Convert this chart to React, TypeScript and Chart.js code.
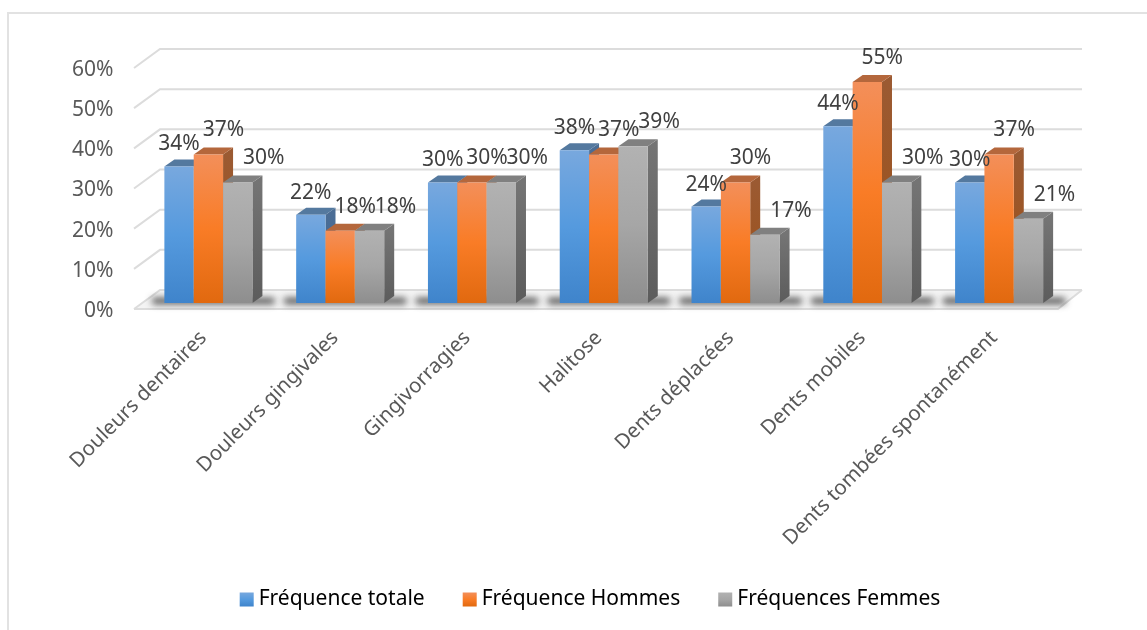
import React, { useEffect, useRef } from "react";
import { Chart, registerables } from "chart.js";

Chart.register(...registerables);

const categories = [
  "Douleurs dentaires",
  "Douleurs gingivales",
  "Gingivorragies",
  "Halitose",
  "Dents déplacées",
  "Dents mobiles",
  "Dents tombées spontanément",
];
const seriesNames = ["Fréquence totale", "Fréquence Hommes", "Fréquences Femmes"];
const frequenceTotale = [34, 22, 30, 38, 24, 44, 30];
const frequenceHommes = [37, 18, 30, 37, 30, 55, 37];
const frequencesFemmes = [30, 18, 30, 39, 17, 30, 21];
const seriesValues = [frequenceTotale, frequenceHommes, frequencesFemmes];

const FONT = '"Noto Sans", sans-serif';
const DEPTH_X = 10;
const DEPTH_Y = 7;

const frontStops = [
  ["#78a8de", "#559ade", "#3f84cb"],
  ["#f38f5a", "#f97c26", "#e1690f"],
  ["#b2b2b2", "#a6a6a6", "#8e8e8e"],
];
const topColors = ["#54799f", "#b4673c", "#808080"];
const sideStops = [
  ["#4b6d95", "#3b6596"],
  ["#9b5a32", "#9d5016"],
  ["#747474", "#5c5c5c"],
];
const labelDx = [0, 15, 26];
const labelDy = [-22, -24, -24];

const gradient = (ctx: CanvasRenderingContext2D, top: number, bottom: number, stops: string[]) => {
  const g = ctx.createLinearGradient(0, top, 0, bottom);
  stops.forEach((c, i) => g.addColorStop(i / (stops.length - 1), c));
  return g;
};

const chart3d = {
  id: "chart3d",
  beforeDatasetsDraw(chart: any) {
    const { ctx, scales } = chart;
    const y = scales.y;
    const x0 = chart.chartArea.left - 8.5;
    const x1 = chart.chartArea.right - 7;
    const FRONT = 6;
    const BACK = -13;
    const BACK_DX = 26;
    const py0 = y.getPixelForValue(0);

    ctx.save();
    ctx.fillStyle = "#f4f4f4";
    ctx.beginPath();
    ctx.moveTo(x0, py0 + FRONT);
    ctx.lineTo(x0 + BACK_DX, py0 + BACK);
    ctx.lineTo(x1 + 24, py0 + BACK);
    ctx.lineTo(x1, py0 + FRONT);
    ctx.closePath();
    ctx.fill();

    ctx.strokeStyle = "#dcdcdc";
    ctx.lineWidth = 2;
    y.ticks.forEach((t: any) => {
      const p = y.getPixelForValue(t.value);
      ctx.beginPath();
      ctx.moveTo(x0, p + FRONT);
      ctx.lineTo(x0 + BACK_DX, p + BACK);
      ctx.lineTo(x1 + 24, p + BACK);
      ctx.stroke();
    });
    ctx.beginPath();
    ctx.moveTo(x0, py0 + FRONT);
    ctx.lineTo(x1, py0 + FRONT);
    ctx.lineTo(x1 + 24, py0 + BACK);
    ctx.stroke();

    const metas = [0, 1, 2].map((i) => chart.getDatasetMeta(i));
    categories.forEach((_, i) => {
      const left = metas[0].data[i].x - metas[0].data[i].width / 2;
      const right = metas[2].data[i].x + metas[2].data[i].width / 2;
      ctx.save();
      ctx.filter = "blur(3.5px)";
      ctx.fillStyle = "rgba(30,30,30,0.8)";
      ctx.fillRect(left - 12, py0 - 5, right - left + 34, 6);
      ctx.restore();
    });

    metas.forEach((meta, d) => {
      meta.data.forEach((bar: any) => {
        const l = bar.x - bar.width / 2;
        const r = bar.x + bar.width / 2;
        const t = bar.y;
        const b = bar.base;
        ctx.fillStyle = gradient(ctx, t, b, sideStops[d]);
        ctx.beginPath();
        ctx.moveTo(r, t);
        ctx.lineTo(r + DEPTH_X, t - DEPTH_Y);
        ctx.lineTo(r + DEPTH_X, b - DEPTH_Y);
        ctx.lineTo(r, b);
        ctx.closePath();
        ctx.fill();
        ctx.fillStyle = topColors[d];
        ctx.beginPath();
        ctx.moveTo(l, t);
        ctx.lineTo(l + DEPTH_X, t - DEPTH_Y);
        ctx.lineTo(r + DEPTH_X, t - DEPTH_Y);
        ctx.lineTo(r, t);
        ctx.closePath();
        ctx.fill();
      });
      meta.controller.draw();
    });
    ctx.restore();
    return false;
  },
  afterDraw(chart: any) {
    const { ctx } = chart;
    ctx.save();
    ctx.font = `21px ${FONT}`;
    ctx.fillStyle = "#404040";
    ctx.textAlign = "center";
    ctx.textBaseline = "middle";
    [0, 1, 2].forEach((d) => {
      chart.getDatasetMeta(d).data.forEach((bar: any, i: number) => {
        ctx.fillText(`${seriesValues[d][i]}%`, bar.x + labelDx[d], bar.y + labelDy[d]);
      });
    });
    const boxes = chart.legend.legendHitBoxes;
    boxes.forEach((h: any, d: number) => {
      const top = h.top + h.height / 2 - 7;
      ctx.fillStyle = gradient(ctx, top, top + 14, frontStops[d]);
      ctx.fillRect(h.left, top, 14, 14);
    });
    ctx.restore();
  },
};

export default function App() {
  const ref = useRef<HTMLCanvasElement>(null);
  useEffect(() => {
    const canvas = ref.current!;
    const chart = new Chart(canvas, {
      type: "bar",
      data: {
        labels: categories,
        datasets: seriesNames.map((label, d) => ({
          label,
          data: seriesValues[d],
          borderWidth: 0,
          backgroundColor: (c: any) => {
            if (c.type !== "data" || !c.chart.scales.y) return frontStops[d][1];
            const s = c.chart.scales.y;
            return gradient(c.chart.ctx, s.getPixelForValue(c.raw), s.getPixelForValue(0), frontStops[d]);
          },
        })),
      },
      options: {
        animation: false,
        responsive: false,
        devicePixelRatio: 1,
        layout: { padding: { left: 33, right: 0, top: 62, bottom: 10 } },
        datasets: { bar: { categoryPercentage: 0.668, barPercentage: 1 } },
        plugins: {
          tooltip: { enabled: false },
          legend: {
            position: "bottom",
            onClick: () => {},
            labels: {
              boxWidth: 8.5,
              boxHeight: 14,
              padding: 38,
              color: "#595959",
              font: { family: FONT, size: 21 },
              generateLabels: () =>
                seriesNames.map((text, i) => ({
                  text,
                  datasetIndex: i,
                  fillStyle: "rgba(0,0,0,0)",
                  strokeStyle: "rgba(0,0,0,0)",
                  lineWidth: 0,
                })),
            },
          },
        },
        scales: {
          x: {
            grid: { display: false },
            border: { display: false },
            afterFit: (s: any) => {
              s.height = 248;
            },
            ticks: {
              minRotation: 45,
              maxRotation: 45,
              autoSkip: false,
              padding: 15,
              labelOffset: -5,
              color: "#595959",
              font: { family: FONT, size: 20.5 },
            },
          },
          y: {
            min: 0,
            max: 60,
            grid: { display: false },
            border: { display: false },
            afterFit: (s: any) => {
              s.width = 109.5;
            },
            ticks: {
              stepSize: 10,
              padding: 21,
              labelOffset: 8,
              color: "#595959",
              font: { family: FONT, size: 21 },
              callback: (v: any) => `${v}%`,
            },
          },
          spacer: {
            position: "right",
            min: 0,
            max: 60,
            grid: { display: false },
            border: { display: false },
            ticks: { display: false },
            afterFit: (s: any) => {
              s.width = 82;
            },
          },
        },
      },
      plugins: [chart3d],
    } as any);
    return () => chart.destroy();
  }, []);

  return (
    <div style={{ position: "fixed", left: 0, top: 0, width: 1147, height: 630, background: "#fff", overflow: "hidden" }}>
      <div
        style={{
          position: "absolute",
          left: 7,
          top: 12,
          width: 1140,
          height: 618,
          borderLeft: "2px solid #e2e2e2",
          borderTop: "2px solid #e2e2e2",
          boxSizing: "border-box",
        }}
      />
      <canvas ref={ref} width={1147} height={630} style={{ position: "absolute", left: 0, top: 0, display: "block" }} />
    </div>
  );
}
